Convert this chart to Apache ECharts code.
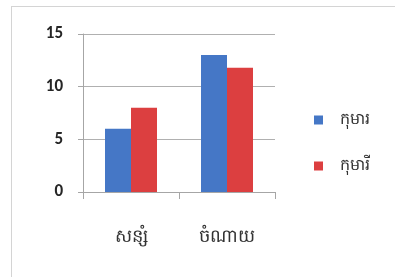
<!DOCTYPE html>
<html>
<head>
<meta charset="utf-8">
<script src="https://cdn.jsdelivr.net/npm/echarts@6/dist/echarts.min.js"></script>
<style>
  html, body { margin: 0; padding: 0; background: #fff; overflow: hidden; }
  #frame { position: absolute; left: 11px; top: 6px; width: 420px; height: 300px; border: 1px solid #d4d4d4; }
  #chart { position: absolute; left: 0; top: 0; width: 395px; height: 277px; }
</style>
</head>
<body>
<div id="frame"></div>
<div id="chart"></div>
<script>
// ── Data ──
const categories = ['សន្សំ', 'ចំណាយ'];
const seriesNames = ['កុមារ', 'កុមារី'];
const boys = [6, 13];
const girls = [8, 11.8];
const colors = ['#4577c6', '#dc3f40'];

const chart = echarts.init(document.getElementById('chart'));
const axisGray = '#a6a6a6';
const labelFont = 'Carlito, "Open Sans", "Liberation Sans", sans-serif';

chart.setOption({
  animation: false,
  grid: { left: 83, right: 120, top: 34, bottom: 85 },
  legend: {
    orient: 'vertical',
    left: 309, top: 107,
    itemWidth: 9, itemHeight: 9, itemGap: 30,
    icon: 'rect',
    textStyle: { color: '#333', fontSize: 16, padding: [0, 0, 0, 12] },
    data: seriesNames,
  },
  xAxis: {
    type: 'category',
    data: categories,
    axisLine: { lineStyle: { color: axisGray } },
    axisTick: { show: true, length: 7, lineStyle: { color: axisGray } },
    axisLabel: { color: '#333', fontSize: 18, margin: 36 },
  },
  yAxis: {
    type: 'value',
    min: 0, max: 15, interval: 5,
    axisLine: { show: true, lineStyle: { color: axisGray } },
    axisTick: { show: true, length: 5, lineStyle: { color: axisGray } },
    axisLabel: { color: '#262626', fontSize: 17, fontWeight: 600, fontFamily: labelFont, margin: 20 },
    splitLine: { lineStyle: { color: '#b0b0b0' } },
  },
  series: [
    { name: seriesNames[0], type: 'bar', data: boys, barWidth: 26, barGap: '0%', itemStyle: { color: colors[0] } },
    { name: seriesNames[1], type: 'bar', data: girls, barWidth: 26, itemStyle: { color: colors[1] } },
  ],
});
</script>
</body>
</html>
